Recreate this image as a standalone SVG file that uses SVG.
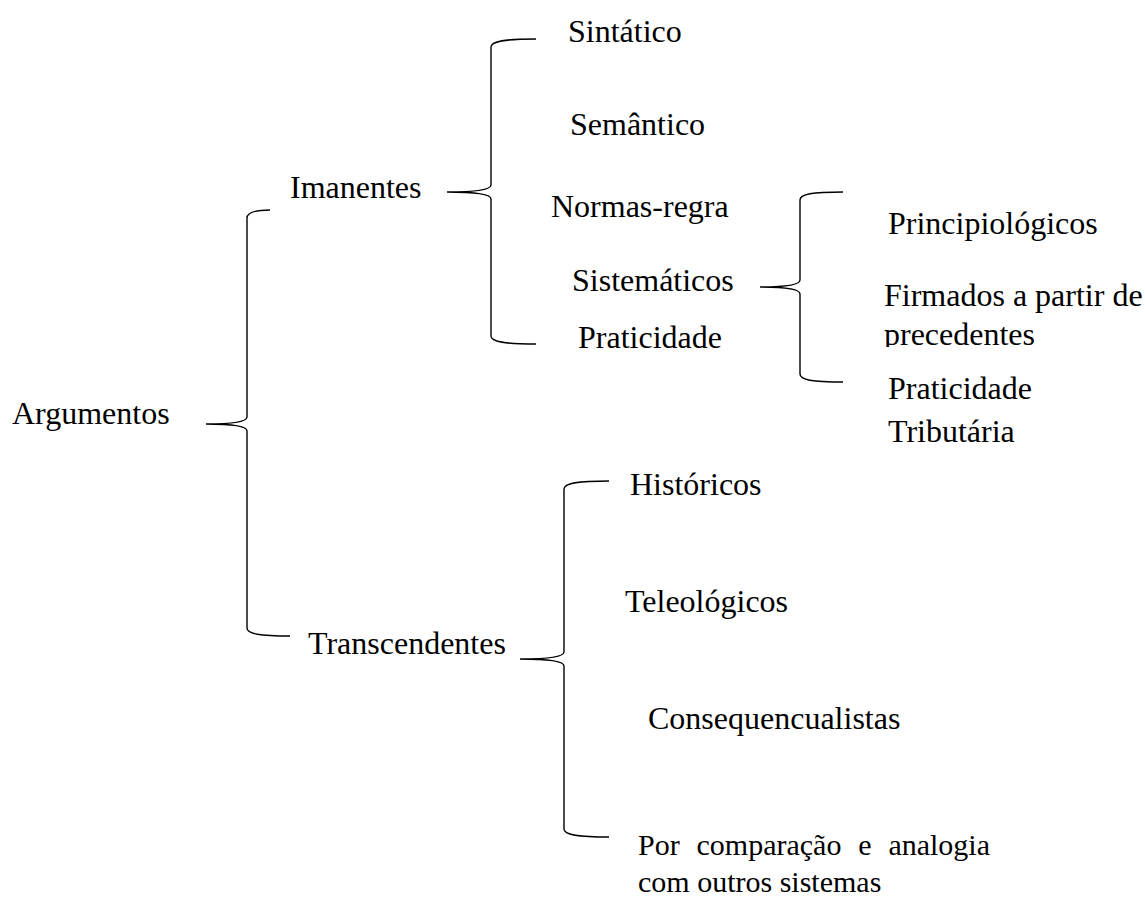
<svg xmlns="http://www.w3.org/2000/svg" width="1145" height="897" viewBox="0 0 1145 897">
<style>
text{font-family:"Liberation Serif","Times New Roman",serif;font-size:32px;fill:#000}
.sm{font-size:30px}
.br{fill:none;stroke:#000;stroke-width:1.4}
</style>
<defs><clipPath id="cp"><rect x="870" y="310" width="275" height="37"/></clipPath></defs>
<rect width="1145" height="897" fill="#fff"/>
<g id="connectors">
<path class="br" d="M270,210 C255,210 247,212 247,218 L247,417 C247,421 238,424 206,424 C238,424 247,427 247,431 L247,628 C247,634 260,636 290,636"/>
<path class="br" d="M536,39 C505,39 491,41 491,47 L491,185 C491,189 480,192 447,192 C480,192 491,195 491,199 L491,336 C491,342 505,344 536,344"/>
<path class="br" d="M843,192 C812,192 800,194 800,200 L800,280 C800,284 790,287 760,287 C790,287 800,290 800,294 L800,374 C800,380 812,382 843,382"/>
<path class="br" d="M609,481 C578,481 564,483 564,489 L564,652 C564,656 553,659 520,659 C553,659 564,662 564,666 L564,829 C564,835 578,837 609,837"/>
</g>
<g id="n-argumentos"><text x="12" y="424">Argumentos</text></g>
<g id="n-imanentes"><text x="290" y="198">Imanentes</text></g>
<g id="n-transcendentes"><text x="308" y="654">Transcendentes</text></g>
<g id="n-sintatico"><text x="568" y="42">Sintático</text></g>
<g id="n-semantico"><text x="570" y="135">Semântico</text></g>
<g id="n-normas"><text x="551" y="217">Normas-regra</text></g>
<g id="n-sistematicos"><text x="572" y="291">Sistemáticos</text></g>
<g id="n-praticidade"><text x="578" y="348">Praticidade</text></g>
<g id="n-principiologicos"><text x="888" y="234">Principiológicos</text></g>
<g id="n-firmados"><text x="884" y="306">Firmados a partir de</text><text x="884" y="345" clip-path="url(#cp)">precedentes</text></g>
<g id="n-praticidade-trib"><text x="888" y="399">Praticidade</text><text x="888" y="442">Tributária</text></g>
<g id="n-historicos"><text x="630" y="495">Históricos</text></g>
<g id="n-teleologicos"><text x="625" y="612">Teleológicos</text></g>
<g id="n-consequencualistas"><text x="648" y="729">Consequencualistas</text></g>
<g id="n-comparacao"><text class="sm" x="638" y="855">Por<tspan x="696.5">comparação</tspan><tspan x="858.2">e</tspan><tspan x="888.4">analogia</tspan></text><text class="sm" x="638" y="892">com outros sistemas</text></g>
</svg>
